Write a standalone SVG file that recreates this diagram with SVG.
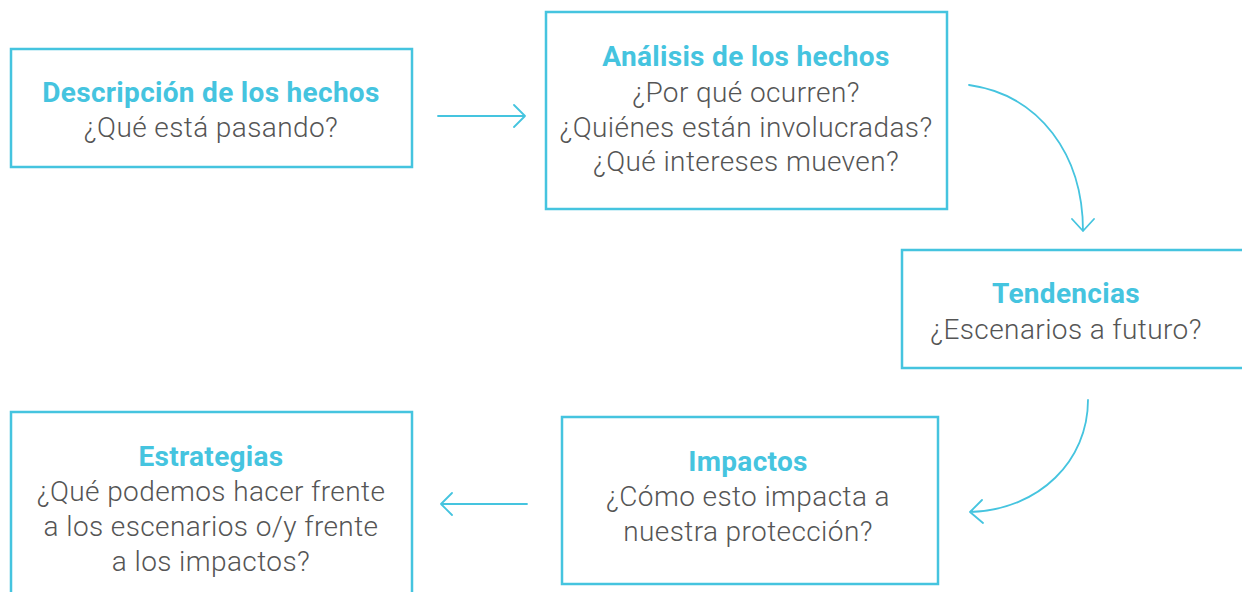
<svg xmlns="http://www.w3.org/2000/svg" width="1242" height="592" viewBox="0 0 1242 592">
<style>
.box{fill:#fff;stroke:#45C4DF;stroke-width:2.5}
.t{font-family:Roboto,"Liberation Sans",sans-serif;font-size:28px;font-weight:700;fill:#45C4DF;text-anchor:middle;letter-spacing:0.3px}
.b{font-family:Roboto,"Liberation Sans",sans-serif;font-size:28px;font-weight:300;fill:#555;text-anchor:middle;letter-spacing:0.4px}
.c{fill:none;stroke:#45C4DF;stroke-width:1.8;stroke-linecap:round;stroke-linejoin:round}
</style>
<rect width="1242" height="592" fill="#fff"/>
<g id="descripcion">
<rect class="box" x="11" y="49" width="401" height="118"/>
<text class="t" x="211" y="102">Descripción de los hechos</text>
<text class="b" x="211" y="137">¿Qué está pasando?</text>
</g>
<g id="analisis">
<rect class="box" x="546" y="12" width="401" height="197"/>
<text class="t" x="746" y="66">Análisis de los hechos</text>
<text class="b" x="746" y="102">¿Por qué ocurren?</text>
<text class="b" x="746" y="137">¿Quiénes están involucradas?</text>
<text class="b" x="746" y="171">¿Qué intereses mueven?</text>
</g>
<g id="tendencias">
<rect class="box" x="902" y="250" width="350" height="118"/>
<text class="t" x="1066" y="303">Tendencias</text>
<text class="b" x="1066" y="339">¿Escenarios a futuro?</text>
</g>
<g id="impactos">
<rect class="box" x="562" y="417" width="376" height="167"/>
<text class="t" x="748" y="471">Impactos</text>
<text class="b" x="748" y="506">¿Cómo esto impacta a</text>
<text class="b" x="748" y="541">nuestra protección?</text>
</g>
<g id="estrategias">
<rect class="box" x="11" y="412" width="401" height="200"/>
<text class="t" x="211" y="466">Estrategias</text>
<text class="b" x="211" y="501">¿Qué podemos hacer frente</text>
<text class="b" x="211" y="536">a los escenarios o/y frente</text>
<text class="b" x="211" y="571">a los impactos?</text>
</g>
<g id="connectors">
<path class="c" d="M438 116 H525 M514 105 L525 116 L514 127"/>
<path class="c" d="M969 85 C1040 95 1083 155 1083 231 M1072 219 L1083 231 L1094 219"/>
<path class="c" d="M1088 400 C1088 460 1040 510 970 512 M982 500 L970 512 L983 523"/>
<path class="c" d="M527 504 H441 M452 493 L441 504 L452 515"/>
</g>
</svg>
